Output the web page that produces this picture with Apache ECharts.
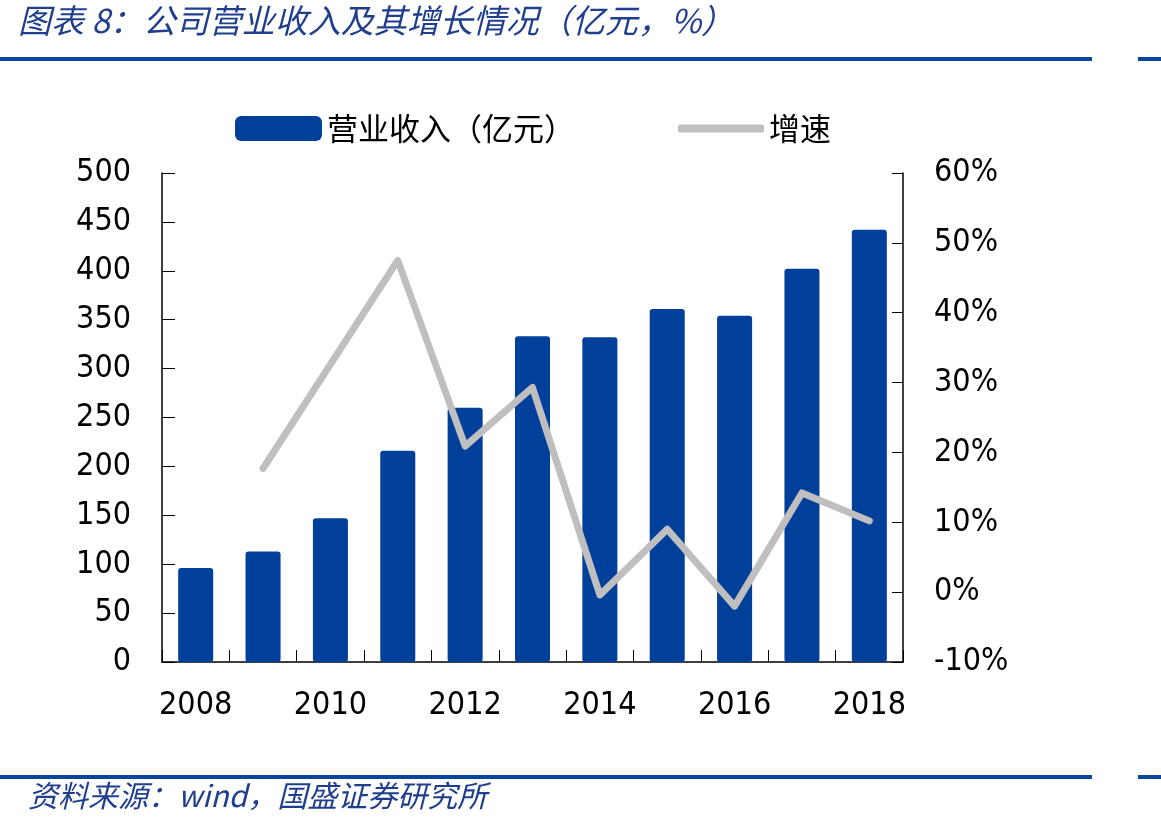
<!DOCTYPE html>
<html>
<head>
<meta charset="utf-8">
<script src="https://cdn.jsdelivr.net/npm/echarts@6/dist/echarts.min.js"></script>
<style>
  html, body { margin: 0; padding: 0; background: #fff; }
  #chart { width: 1161px; height: 830px; }
</style>
</head>
<body>
<div id="chart"></div>
<script>
// 数据
const years = ['2008', '2009', '2010', '2011', '2012', '2013', '2014', '2015', '2016', '2017', '2018'];
const revenue = [96, 113, 147, 216, 260, 333, 332, 361, 354, 402, 442];
const growth = [null, 17.7, 32.6, 47.5, 20.9, 29.3, -0.4, 9.0, -2.0, 14.2, 10.2];
const leftTicks = { min: 0, max: 500, interval: 50 };
const rightTicks = { min: -10, max: 60, interval: 10 };

const NUM_FONT = '"DejaVu Sans Condensed", "DejaVu Sans", sans-serif';
const CJK_FONT = '"Noto Sans CJK SC", sans-serif';
const NAVY = '#0B449C';
const TITLE_COLOR = '#1F3E8E';

const chart = echarts.init(document.getElementById('chart'));

const option = {
  backgroundColor: '#fff',
  animation: false,
  grid: { left: 162, right: 258, top: 173, bottom: 168 },
  legend: [
    {
      data: ['营业收入（亿元）'],
      left: 230, top: 108,
      itemWidth: 87, itemHeight: 25,
      icon: 'roundRect',
      textStyle: { fontFamily: CJK_FONT, fontSize: 31, color: '#000' },
    },
    {
      data: [{ name: '增速', icon: 'roundRect' }],
      left: 673, top: 108,
      itemWidth: 86, itemHeight: 8,
      textStyle: { fontFamily: CJK_FONT, fontSize: 31, color: '#000' },
    },
  ],
  xAxis: {
    type: 'category',
    data: years,
    axisLine: { lineStyle: { color: '#000', width: 1.5 } },
    axisTick: { show: true, inside: true, length: 12, interval: 0, lineStyle: { color: '#000' } },
    axisLabel: {
      interval: 1, margin: 28,
      fontFamily: NUM_FONT, fontSize: 32, color: '#000',
    },
  },
  yAxis: [
    {
      type: 'value',
      min: leftTicks.min, max: leftTicks.max, interval: leftTicks.interval,
      splitLine: { show: false },
      axisLine: { show: true, lineStyle: { color: '#000', width: 1.5 } },
      axisTick: { show: true, inside: true, length: 13, lineStyle: { color: '#000' } },
      axisLabel: { margin: 31, fontFamily: NUM_FONT, fontSize: 32, color: '#000' },
    },
    {
      type: 'value',
      min: rightTicks.min, max: rightTicks.max, interval: rightTicks.interval,
      splitLine: { show: false },
      axisLine: { show: true, lineStyle: { color: '#000', width: 1.5 } },
      axisTick: { show: true, inside: true, length: 11, lineStyle: { color: '#000' } },
      axisLabel: {
        margin: 31, fontFamily: NUM_FONT, fontSize: 32, color: '#000',
        formatter: (v) => `${v}%`,
      },
    },
  ],
  series: [
    {
      name: '营业收入（亿元）',
      type: 'bar',
      data: revenue,
      barWidth: '52%',
      itemStyle: { color: '#00409A', borderRadius: 3 },
    },
    {
      name: '增速',
      type: 'line',
      yAxisIndex: 1,
      data: growth,
      color: '#BFBFBF',
      showSymbol: false,
      symbol: 'none',
      lineStyle: { width: 7, color: '#BFBFBF', cap: 'round', join: 'round' },
      itemStyle: { color: '#BFBFBF' },
    },
  ],
  graphic: [
    {
      type: 'text', left: 18, top: 4,
      style: {
        text: '图表 8：公司营业收入及其增长情况（亿元，%）',
        font: `italic 33px ${CJK_FONT}`,
        fill: TITLE_COLOR,
      },
    },
    { type: 'rect', shape: { x: 0, y: 57, width: 1092, height: 4 }, style: { fill: NAVY } },
    { type: 'rect', shape: { x: 1138, y: 57, width: 23, height: 4 }, style: { fill: NAVY } },
    { type: 'rect', shape: { x: 0, y: 775, width: 1092, height: 4 }, style: { fill: NAVY } },
    { type: 'rect', shape: { x: 1138, y: 775, width: 23, height: 4 }, style: { fill: NAVY } },
    {
      type: 'text', left: 28, top: 781,
      style: {
        text: '资料来源：wind，国盛证券研究所',
        font: `italic 30px ${CJK_FONT}`,
        fill: TITLE_COLOR,
      },
    },
  ],
};

chart.setOption(option);
</script>
</body>
</html>
